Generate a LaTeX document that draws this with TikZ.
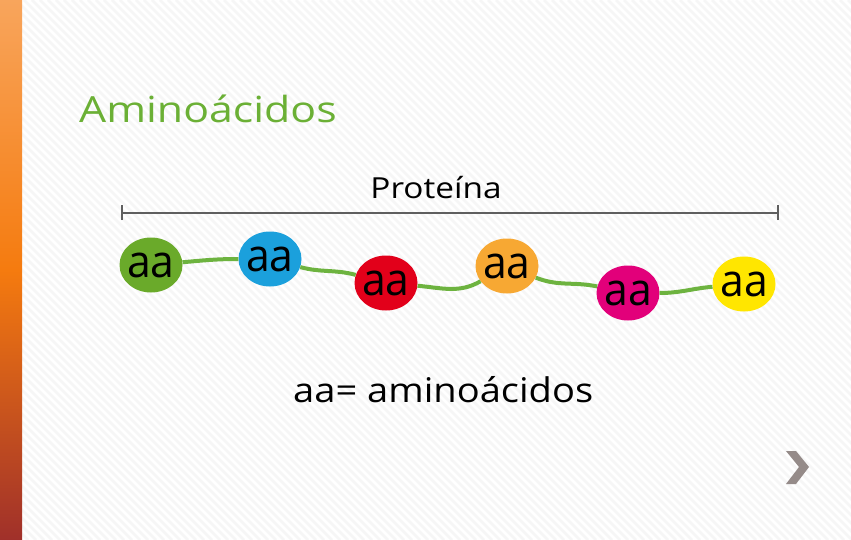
\documentclass[tikz,border=0pt]{standalone}
\usepackage{fontspec}
\setmainfont{Open Sans}
\newfontfamily\osans{Open Sans}
\usetikzlibrary{shapes.geometric}
\definecolor{titlegreen}{HTML}{6BB035}
\definecolor{chaingreen}{HTML}{6DB33F}
\definecolor{aagreen}{HTML}{6AAA2A}
\definecolor{aablue}{HTML}{1BA0DC}
\definecolor{aared}{HTML}{E2001A}
\definecolor{aaorange}{HTML}{F7A833}
\definecolor{aamagenta}{HTML}{E2007A}
\definecolor{aayellow}{HTML}{FFE600}
\definecolor{bargray}{HTML}{5F5F5F}
\definecolor{chevgray}{HTML}{958B89}
\definecolor{stripegray}{HTML}{F6F6F6}
\definecolor{bartop}{HTML}{F8A55C}
\definecolor{barmid}{HTML}{F57B0F}
\definecolor{barbot}{HTML}{A0302A}
\tikzset{
  aa/.style={ellipse, minimum width=63pt, minimum height=55pt, inner sep=0pt, fill=#1,
    label={[font=\osans\fontsize{45}{45}\selectfont\addfontfeature{FakeStretch=0.95}, inner sep=0pt, text=black]center:aa}},
  chain/.style={draw=chaingreen, line width=4pt},
  bracket/.style={draw=bargray, line width=2.5pt},
  stripe/.style={draw=stripegray, line width=2.5pt}
}
\begin{document}
\begin{tikzpicture}[x=1pt,y=-1pt]
\useasboundingbox (0,0) rectangle (851,540);
\fill[white] (0,0) rectangle (851,540);
\begin{scope}
\clip (22,0) rectangle (851,540);
\foreach \i in {-560,-552,...,860} \draw[stripe] (\i,0) -- ++(540,540);
\end{scope}
\shade[top color=bartop, bottom color=barbot, middle color=barmid] (0,0) rectangle (22,540);
% title
\node[anchor=base west, inner sep=0pt, text=titlegreen, font=\osans\fontsize{36}{36}\selectfont\addfontfeature{FakeStretch=1.19}] (title) at (79,123) {Aminoácidos};
% bracket
\node[anchor=base, inner sep=0pt, font=\osans\fontsize{29}{29}\selectfont\addfontfeature{FakeStretch=1.15}] (prot) at (436,199) {Proteína};
\coordinate (bl) at (122,213);
\coordinate (br) at (778,213);
\draw[bracket] (bl) -- (br);
\draw[bracket] ([yshift=-7]bl) -- ([yshift=8]bl);
\draw[bracket] ([yshift=-7]br) -- ([yshift=8]br);
% amino acids
\node[aa=aagreen] (a1) at (151,265) {};
\node[aa=aablue] (a2) at (270,259) {};
\node[aa=aared] (a3) at (386,283) {};
\node[aa=aaorange] (a4) at (507,266) {};
\node[aa=aamagenta] (a5) at (628,293) {};
\node[aa=aayellow] (a6) at (744,284) {};
\draw[chain] (a1) to[out=5,in=180] (a2);
\draw[chain] (a2) to[out=-15,in=165] (a3);
\draw[chain] (a3) to[out=-5,in=210] (a4);
\draw[chain] (a4) to[out=-22,in=168] (a5);
\draw[chain] (a5) to[out=0,in=185] (a6);
% legend
\node[anchor=base west, inner sep=0pt, font=\osans\fontsize{34}{34}\selectfont\addfontfeature{FakeStretch=1.12}] (legend) at (293,402) {aa= aminoácidos};
% chevron
\fill[chevgray] (786,451) -- (796,451) -- (809,467) -- (796,484) -- (786,484) -- (799,467) -- cycle;
\end{tikzpicture}
\end{document}
